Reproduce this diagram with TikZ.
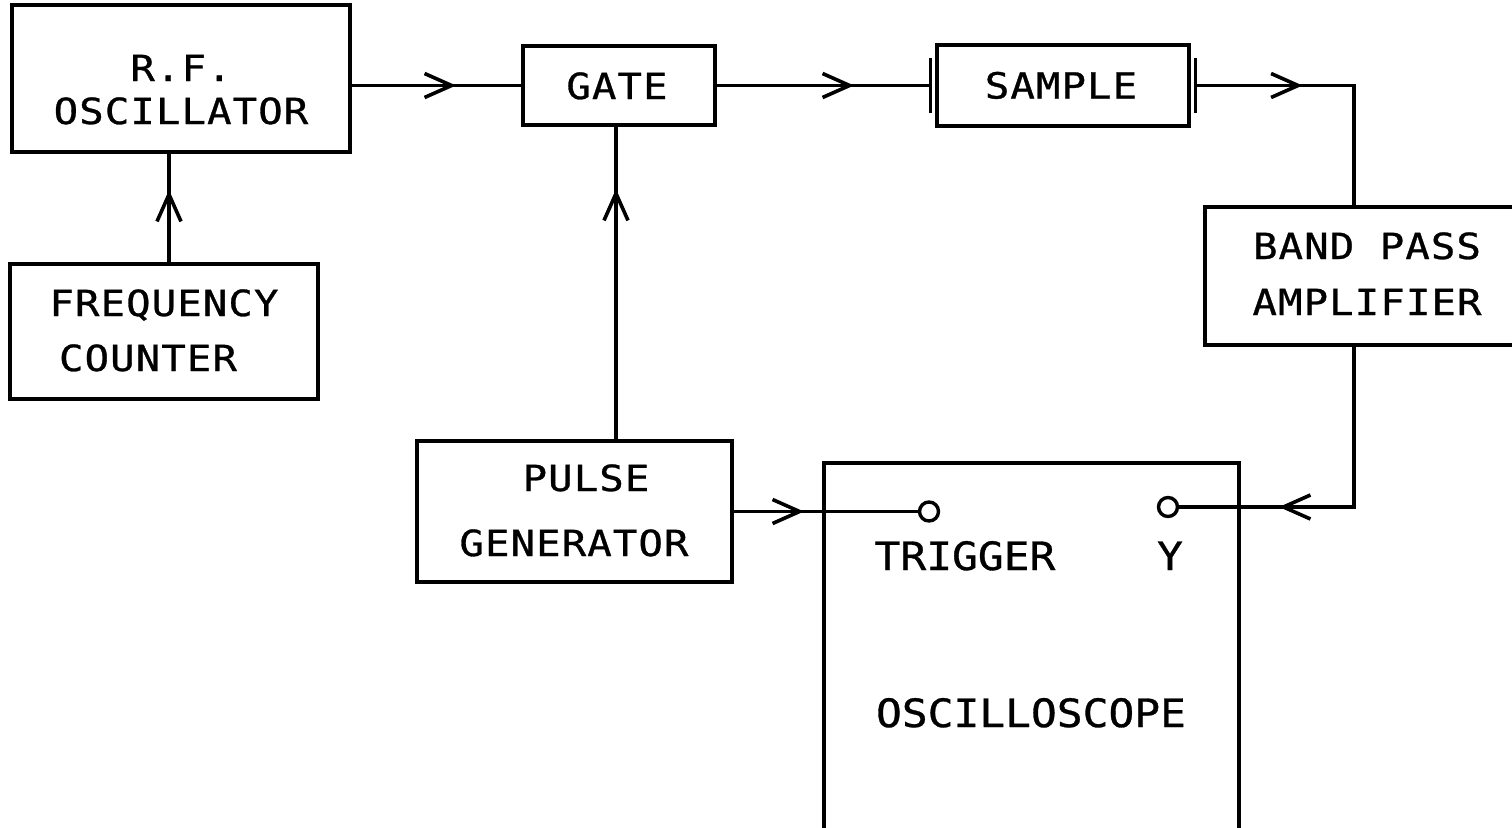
\documentclass[tikz,border=0pt]{standalone}
\usepackage{fontspec}
\newfontfamily\pfa[FakeStretch=1.13, FakeBold=0.8, LetterSpace=3]{DejaVu Sans Mono}
\newfontfamily\pfb[FakeStretch=1.1, FakeBold=0.8]{DejaVu Sans Mono}
\usetikzlibrary{arrows.meta,decorations.markings,calc}
\begin{document}
\begin{tikzpicture}[x=1pt,y=-1pt,
  wire/.style={line width=3.6pt},
  box/.style={draw, line width=3.6pt, rectangle, inner sep=0pt, outer sep=0pt},
  txt/.style={font=\pfa\fontsize{36pt}{42pt}\selectfont, inner sep=0pt, anchor=base},
  bigtxt/.style={font=\pfb\fontsize{39pt}{46pt}\selectfont, inner sep=0pt, anchor=base},
  term/.style={draw, circle, line width=3.4pt, fill=white, minimum size=19pt, inner sep=0pt, outer sep=0pt},
  barb/.style={postaction={decorate}, decoration={markings, mark=at position #1 with {\arrow{Straight Barb[length=27pt,width=24pt]}}}}
]
\useasboundingbox (0,0) rectangle (1512,827);
\fill[white] (0,0) rectangle (1512,827);
\clip (0,0) rectangle (1512,827);

% boxes
\node[box, minimum width=338pt, minimum height=147pt] (osc) at (181,78.5) {};
\node[box, minimum width=192pt, minimum height=79pt] (gate) at (619,85.5) {};
\node[box, minimum width=252pt, minimum height=81pt] (samp) at (1063,85.5) {};
\node[box, minimum width=311pt, minimum height=138pt] (bpa) at (1360.5,276) {};
\node[box, minimum width=308pt, minimum height=135pt] (freq) at (164,331.5) {};
\node[box, minimum width=315pt, minimum height=141pt] (pulse) at (574.5,511.5) {};
\node[inner sep=0pt, outer sep=0pt, minimum width=415pt, minimum height=382pt] (scope) at (1031.5,654) {};
\draw[wire] (scope.south west) -- (scope.north west) -- (scope.north east) -- (scope.south east);

% sample electrodes
\coordinate (pl) at ($(samp.west)+(-6.5,0)$);
\coordinate (pr) at ($(samp.east)+(6.5,0)$);
\draw[wire] ($(pl)+(0,-27.5)$) -- ($(pl)+(0,27.5)$);
\draw[wire] ($(pr)+(0,-27.5)$) -- ($(pr)+(0,27.5)$);

% texts
\node[txt] (osc1) at (181,81) {R.F.};
\node[txt] (osc2) at (181,124) {OSCILLATOR};
\node[txt] (gatet) at (617,99) {GATE};
\node[txt] (sampt) at (1061,98.5) {SAMPLE};
\node[txt] (bpa1) at (1367,259) {BAND PASS};
\node[txt] (bpa2) at (1367,315) {AMPLIFIER};
\node[txt] (freq1) at (164,316) {FREQUENCY};
\node[txt] (freq2) at (148,371) {COUNTER};
\node[txt] (pulse1) at (586,491) {PULSE};
\node[txt] (pulse2) at (574,556) {GENERATOR};
\node[bigtxt] (trigt) at (965,570) {TRIGGER};
\node[bigtxt] (yt) at (1170,570) {Y};
\node[bigtxt] (scopet) at (1031,727) {OSCILLOSCOPE};

% guide coordinates
\coordinate (fx) at (169,0);
\coordinate (gx) at (616,0);
\coordinate (bx) at (1354,0);

% terminals
\node[term] (trig) at (929,511.5) {};
\node[term] (yin) at (1168,507) {};

% connectors
\draw[wire, barb=106pt] (gate.west -| osc.east) -- (gate.west);
\draw[wire, barb=139pt] (gate.east) -- (pl);
\draw[wire, barb=107pt] (pr) -- (pr -| bx) -- (bx |- bpa.north);
\draw[wire, barb=237pt] (bx |- bpa.south) -- (bx |- yin) -- (yin.east);
\draw[wire, barb=74pt] (fx |- freq.north) -- (fx |- osc.south);
\draw[wire, barb=252pt] (gx |- pulse.north) -- (gx |- gate.south);
\draw[wire, barb=72pt] (pulse.east |- trig) -- (trig.west);
\end{tikzpicture}
\end{document}
